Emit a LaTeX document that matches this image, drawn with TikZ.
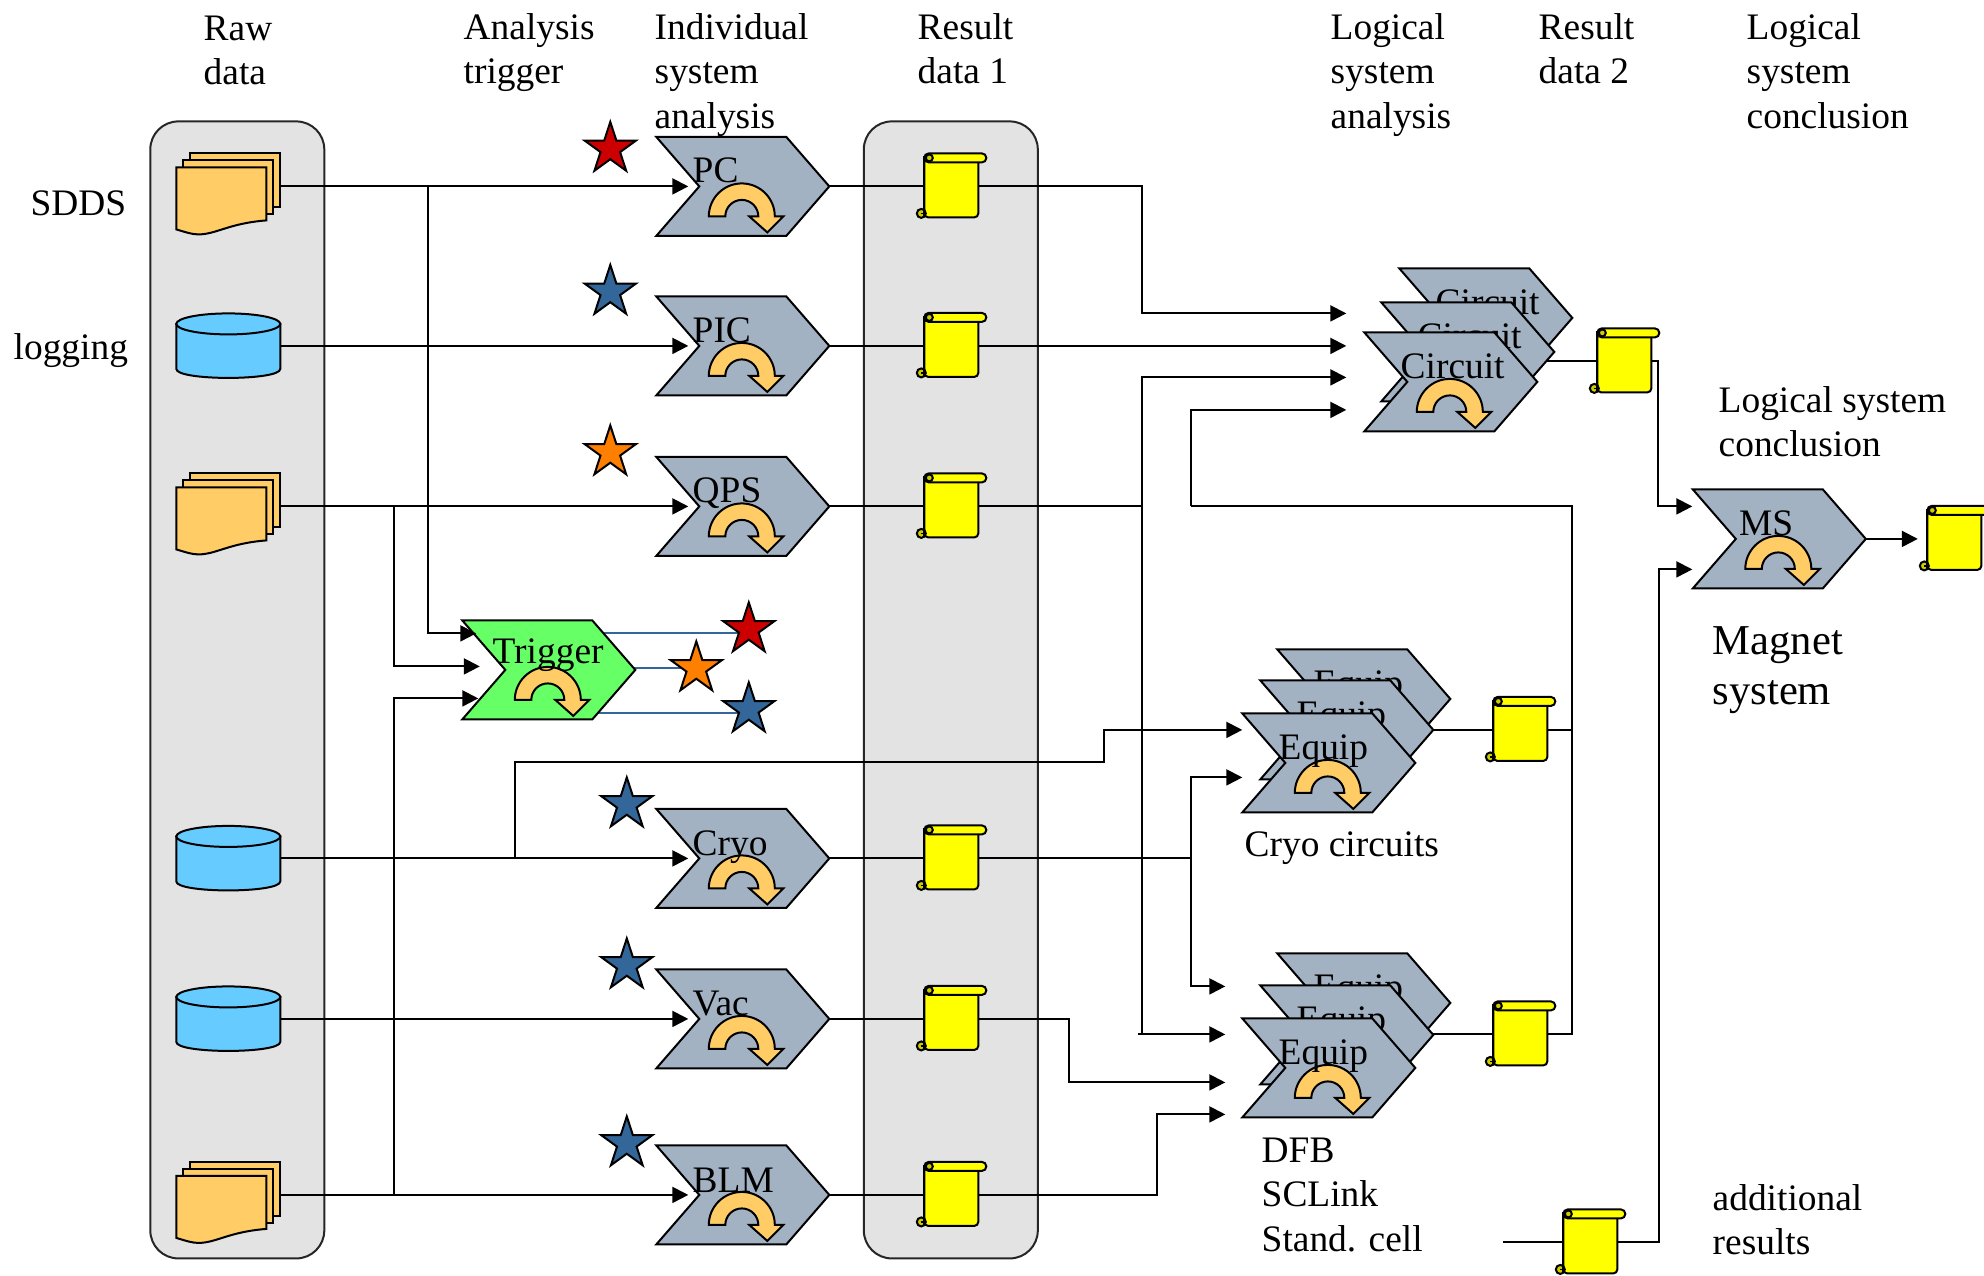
\documentclass[tikz,border=0pt]{standalone}
\usepackage{fontspec}
\setmainfont{Liberation Serif}
\usetikzlibrary{arrows.meta,shapes.geometric,calc}
\pgfdeclarelayer{backl}
\pgfdeclarelayer{connl}
\pgfsetlayers{backl,connl,main}
\definecolor{chevgray}{HTML}{A2B2C2}
\definecolor{trigreen}{HTML}{66FF66}
\definecolor{arcor}{HTML}{FFCC66}
\definecolor{cylblue}{HTML}{66CCFF}
\definecolor{boxgray}{HTML}{E3E3E3}
\definecolor{starblue}{HTML}{336699}
\definecolor{starred}{HTML}{CC0000}
\definecolor{starorange}{HTML}{FF8000}
\definecolor{curlc}{HTML}{CCCC00}
\definecolor{scrollyellow}{HTML}{FFFF00}
\tikzset{
  lw/.style={line width=1pt,draw=black,line join=miter},
  conn/.style={line width=1pt,draw=black},
  arr/.style={conn,-{Triangle[length=8pt,width=8pt]}},
  blueline/.style={line width=1pt,draw=starblue},
  anch/.style={inner sep=0,outer sep=0,draw=none,fill=none},
  graybox/.style={draw=black!85,line width=1pt,fill=boxgray,rounded corners=14pt,inner sep=0,minimum width=87pt,minimum height=568.5pt},
  txt/.style={font=\fontsize{18.7}{22.2}\selectfont,align=left,inner sep=0,anchor=north west},
  bigtxt/.style={font=\fontsize{21.3}{25.3}\selectfont,align=left,inner sep=0,anchor=north west},
  chevlabel/.style={font=\fontsize{18.7}{22}\selectfont,inner sep=0,anchor=base west},
  starnode/.style={star,star points=5,star point ratio=2.618,minimum size=27pt,inner sep=0,line width=1pt,draw=black},
}
% name, left x, top y, label, fill, label dx, label dy
\newcommand{\chev}[7]{%
  \node[anch,minimum width=86.5pt,minimum height=49.5pt] (#1) at (#2+86.5,#3+49.5) {};
  \coordinate (#1-in) at (#2+32,#3+49.5);
  \begin{scope}[shift={(#2,#3)}]
    \draw[lw,fill=#5] (0,0) -- (130,0) -- (173,49.5) -- (130,99) -- (0,99) -- (43,49.5) -- cycle;
    \begin{scope}[shift={(85.5,79.5)}]
      \draw[lw,fill=arcor] (-33,0) .. controls (-33,-18.2) and (-18.2,-33) .. (0,-33) .. controls (18.2,-33) and (33,-18.2) .. (33,0) -- (41.5,0) -- (25.5,16) -- (7.5,0) -- (16.5,0) .. controls (16.5,-9.1) and (9.1,-16.5) .. (0,-16.5) .. controls (-9.1,-16.5) and (-16.5,-9.1) .. (-16.5,0) -- cycle;
    \end{scope}
    \node[chevlabel] (#1-t) at (#6,#7) {#4};
  \end{scope}
}
% name, left x, line y
\newcommand{\scrollmark}[3]{%
  \node[anch,minimum width=27pt,minimum height=32pt] (#1) at (#2+27,#3) {};
  \begin{scope}[shift={(#2+27,#3)}]
    \draw[lw,fill=scrollyellow,rounded corners=2pt] (-27,-30) -- (-27,31) -- (27,31) -- (27,-28) -- cycle;
    \draw[lw,fill=scrollyellow,rounded corners=2.2pt] (-27,-33) rectangle (35,-24);
    \draw[lw,fill=curlc] (-22,-28.5) circle[radius=3.5];
    \draw[lw,fill=curlc] (-30,27) circle[radius=4.5];
    \draw[line width=.8pt] (-30,27) -- (-26,27);
    \draw[lw] (-27,-30) -- (-27,31);
  \end{scope}
}
% name, line y
\newcommand{\stackmark}[2]{%
  \node[anch,minimum width=52pt,minimum height=33pt] (#1) at (228,#2) {};
  \begin{scope}[shift={(228,#2)}]
    \draw[lw,fill=arcor] (-38,-33) rectangle (52,21);
    \draw[lw,fill=arcor] (-45,-26) rectangle (45,28);
    \draw[lw,fill=arcor] (-52,-19) -- (38,-19) -- (38,34) .. controls (0,37) and (-12,48) .. (-30,48) .. controls (-36,48) and (-42,46) .. (-52,43) -- cycle;
  \end{scope}
}
\newcommand{\cylmark}[2]{%
  \node[anch,minimum width=52pt,minimum height=33pt] (#1) at (228,#2) {};
  \begin{scope}[shift={(228,#2)}]
    \draw[lw,fill=cylblue] (-52,-22) -- (-52,23) .. controls (-52,35) and (52,35) .. (52,23) -- (52,-22) -- cycle;
    \draw[lw,fill=cylblue] (0,-22) ellipse[x radius=52,y radius=10.5];
  \end{scope}
}
\begin{document}
\begin{tikzpicture}[x=0.5pt,y=-0.5pt]
\useasboundingbox (-0.3,-0.4) rectangle (1983.7,1274.6);
\begin{pgfonlayer}{backl}
  \node[graybox] (rawbox) at (237,689.5) {};
  \node[graybox] (resbox) at (950.5,689.5) {};
\end{pgfonlayer}

% data sources
\stackmark{sdds}{186}
\cylmark{logdb}{345.5}
\stackmark{qpsdata}{506}
\cylmark{cryodb}{858}
\cylmark{vacdb}{1018.5}
\stackmark{blmdata}{1194.5}

% system analysis
\chev{pc}{656}{136.5}{PC}{chevgray}{36}{46}
\chev{pic}{656}{296}{PIC}{chevgray}{36}{46}
\chev{qps}{656}{456.5}{QPS}{chevgray}{36}{46}
\chev{cryo}{656}{808.5}{Cryo}{chevgray}{36}{47}
\chev{vac}{656}{969}{Vac}{chevgray}{36}{46}
\chev{blm}{656}{1145}{BLM}{chevgray}{36}{47}
\chev{trigger}{462}{620}{Trigger}{trigreen}{30}{43.5}

% result data 1
\scrollmark{rpc}{924}{186}
\scrollmark{rpic}{924}{345.5}
\scrollmark{rqps}{924}{506}
\scrollmark{rcryo}{924}{858}
\scrollmark{rvac}{924}{1018.5}
\scrollmark{rblm}{924}{1194.5}

% logical stacks
\chev{circa}{1399}{268}{Circuit}{chevgray}{36}{46}
\chev{circb}{1381}{302}{Circuit}{chevgray}{36}{46}
\chev{circc}{1364}{332}{Circuit}{chevgray}{36}{46}
\chev{eqa}{1277}{649}{Equip}{chevgray}{36}{46}
\chev{eqb}{1260}{680}{Equip}{chevgray}{36}{46}
\chev{eqc}{1242}{713}{Equip}{chevgray}{36}{46}
\chev{eqd}{1277}{953}{Equip}{chevgray}{36}{46}
\chev{eqe}{1260}{985}{Equip}{chevgray}{36}{46}
\chev{eqf}{1242}{1018}{Equip}{chevgray}{36}{46}
\chev{ms}{1692.5}{489}{MS}{chevgray}{46}{46}

% result data 2
\scrollmark{rcirc}{1597}{361}
\scrollmark{reqa}{1493}{729.5}
\scrollmark{reqb}{1493}{1034}
\scrollmark{rms}{1927}{538.5}
\scrollmark{radd}{1563}{1242}

% stars
\node[starnode,fill=starred] (spc) at (610,148.5) {};
\node[starnode,fill=starblue] (spic) at (610,291.5) {};
\node[starnode,fill=starorange] (sqps) at (610,452) {};
\node[starnode,fill=starred] (str) at (748.5,629) {};
\node[starnode,fill=starorange] (sto) at (696,668) {};
\node[starnode,fill=starblue] (stb) at (748.5,709) {};
\node[starnode,fill=starblue] (scryo) at (626.5,804) {};
\node[starnode,fill=starblue] (svac) at (626.5,965) {};
\node[starnode,fill=starblue] (sblm) at (626.5,1143) {};

% named bend and target points
\coordinate (trigA) at (476,633);
\coordinate (trigB) at (479.5,666);
\coordinate (trigC) at (478,698);
\coordinate (trigD) at (480,713);
\coordinate (busA) at (428,186);
\coordinate (busB) at (393.5,506);
\coordinate (busC) at (393.5,1194.5);
\coordinate (cryoTap) at (515,858);
\coordinate (cryoTop) at (515,762);
\coordinate (cryoRight) at (1103.5,762);
\coordinate (eqIn1) at (1242,729.5);
\coordinate (eqIn2) at (1242,777);
\coordinate (eqIn3) at (1225,986);
\coordinate (eqIn4) at (1225,1034);
\coordinate (eqIn5) at (1225,1082);
\coordinate (eqIn6) at (1225,1114);
\coordinate (cIn1) at (1346,313);
\coordinate (cIn2) at (1346,345.5);
\coordinate (cIn3) at (1346,377);
\coordinate (cIn4) at (1346,409.5);
\coordinate (pcBus) at (1141.5,186);
\coordinate (qpsBus) at (1141.5,506);
\coordinate (stub) at (1138,1034);
\coordinate (cryoBus) at (1191,858);
\coordinate (vacBus) at (1069,1018.5);
\coordinate (blmBus) at (1156.5,1194.5);
\coordinate (fbBot) at (1572,1034);
\coordinate (fbTop) at (1572,506);
\coordinate (fbLeft) at (1191,506);
\coordinate (msIn1) at (1692,506);
\coordinate (msIn2) at (1692,569);
\coordinate (msBus) at (1658,361);
\coordinate (addBus) at (1659,1242);
\coordinate (addFree) at (1503,1242);
\coordinate (msOut) at (1917.5,538.5);

\begin{pgfonlayer}{connl}
  % inputs
  \draw[arr] (sdds.east) -- (pc-in);
  \draw[arr] (logdb.east) -- (pic-in);
  \draw[arr] (qpsdata.east) -- (qps-in);
  \draw[arr] (cryodb.east) -- (cryo-in);
  \draw[arr] (vacdb.east) -- (vac-in);
  \draw[arr] (blmdata.east) -- (blm-in);
  % outputs to the logical systems
  \draw[conn] (pc.east) -- (rpc.west);
  \draw[conn] (pic.east) -- (rpic.west);
  \draw[conn] (qps.east) -- (rqps.west);
  \draw[conn] (cryo.east) -- (rcryo.west);
  \draw[conn] (vac.east) -- (rvac.west);
  \draw[conn] (blm.east) -- (rblm.west);
  \draw[arr] (rpc.east) -- (pcBus) |- (cIn1);
  \draw[arr] (rpic.east) -- (cIn2);
  \draw[conn] (rqps.east) -- (qpsBus);
  \draw[arr] (qpsBus) |- (cIn3);
  \draw[arr] (stub) -- (eqIn4);
  \draw[conn] (qpsBus) -- (qpsBus |- stub);
  \draw[conn] (rcryo.east) -- (cryoBus);
  \draw[arr] (cryoBus) |- (eqIn2);
  \draw[arr] (cryoBus) |- (eqIn3);
  \draw[arr] (rvac.east) -- (vacBus) |- (eqIn5);
  \draw[arr] (rblm.east) -- (blmBus) |- (eqIn6);
  \draw[arr] (cryoTap) -- (cryoTop) -- (cryoRight) |- (eqIn1);
  % logical results
  \draw[conn] (eqb.east) -- (reqa.west);
  \draw[conn] (eqe.east |- reqb.west) -- (reqb.west);
  \draw[conn] (circb.center |- rcirc.west) -- (rcirc.west);
  \draw[conn] (reqa.east) -- (fbBot |- reqa.east);
  \draw[conn] (reqb.east) -- (fbBot) -- (fbTop) -- (fbLeft);
  \draw[arr] (fbLeft) |- (cIn4);
  \draw[arr] (rcirc.east) -- (msBus) |- (msIn1);
  \draw[arr] (radd.east) -- (addBus) |- (msIn2);
  \draw[conn] (addFree) -- (radd.west);
  \draw[arr] (ms.east) -- (msOut);
  % trigger outputs
  \draw[blueline] (trigger.center |- trigA) -- (str.center |- trigA);
  \draw[blueline] (trigger.center |- sto) -- (sto.center);
  \draw[blueline] (trigger.center |- trigD) -- (stb.center |- trigD);
\end{pgfonlayer}
% trigger inputs, over the green shape
\draw[arr] (busA) |- (trigA);
\draw[arr] (busB) |- (trigB);
\draw[arr] (busC) |- (trigC);

% texts
\node[txt] (t1) at (203,15) {Raw\\data};
\node[txt] (t2) at (463,12.5) {Analysis\\trigger};
\node[txt] (t3) at (654,12.5) {Individual\\system\\analysis};
\node[txt] (t4) at (917,12.5) {Result\\data 1};
\node[txt] (t5) at (1330,12.5) {Logical\\system\\analysis};
\node[txt] (t6) at (1538,12.5) {Result\\data 2};
\node[txt] (t7) at (1746,12.5) {Logical\\system\\conclusion};
\node[txt] (t8) at (30,190) {SDDS};
\node[txt] (t9) at (13,332.5) {logging};
\node[txt] (t10) at (1718,385.5) {Logical system\\conclusion};
\node[bigtxt] (t11) at (1712,625.5) {Magnet\\system};
\node[txt] (t12) at (1244,831) {Cryo circuits};
\node[txt] (t13) at (1261,1137) {DFB\\SCLink\\Stand. cell};
\node[txt] (t14) at (1712,1183.5) {additional\\results};
\end{tikzpicture}
\end{document}
